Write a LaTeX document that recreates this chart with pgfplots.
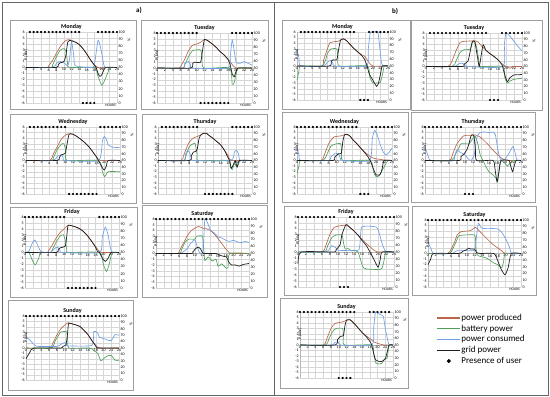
\documentclass[border=0pt]{standalone}
\usepackage{pgfplots}
\pgfplotsset{compat=1.18}
\usepackage{fontspec}
\setmainfont{Carlito}
\definecolor{cProd}{HTML}{B8654A}
\definecolor{cBatt}{HTML}{4E9F5B}
\definecolor{cCons}{HTML}{6E9FE6}
\definecolor{cGrid}{HTML}{1E1E1E}
\newcommand{\tl}{\fontsize{4}{4.5}\selectfont}
\pgfplotsset{
  /pgf/number format/assume math mode=true,
  every axis title shift=0pt,
  prod/.style={color=cProd, line width=0.65pt, smooth, tension=0.35},
  batt/.style={color=cBatt, line width=0.65pt, smooth, tension=0.35},
  cons/.style={color=cCons, line width=0.65pt, smooth, tension=0.35},
  gridp/.style={color=cGrid, line width=0.7pt, smooth, tension=0.35},
  dots/.style={only marks, mark=*, mark size=0.95pt, black},
  pbase/.style={scale only axis, anchor=north west, xmin=0, xmax=24, clip=false},
  pleft/.style={pbase, ymin=-6, ymax=6, axis x line=middle, axis y line=left,
    axis line style={draw=gray!55, -}, xtick={0,2,...,24}, ytick={-6,-5,...,6},
    hide obscured x ticks=false, hide obscured y ticks=false,
    grid=major, grid style={draw=gray!32, line width=0.3pt}, major tick length=0pt,
    tick label style={font=\tl}, xticklabel style={inner sep=0.6pt}, yticklabel style={inner sep=1.2pt},
    title style={font=\fontsize{6}{7}\selectfont\bfseries, at={(0.5,1)}, anchor=south, yshift=2pt, inner sep=0pt},
    xlabel={HOURS}, xlabel style={font=\fontsize{3.6}{4}\selectfont, at={(axis description cs:1,0)}, anchor=north east, inner sep=1pt},
    ylabel={P (kW)}, ylabel style={font=\tl, at={(axis description cs:0,0.82)}, anchor=center, xshift=-10pt}},
  raxis/.style={pbase, ymin=0, ymax=100, axis x line=none, axis y line*=right, axis line style={draw=none},
    ytick={0,10,...,100}, major tick length=0pt, tick label style={font=\tl}, yticklabel style={inner sep=1.5pt}},
}
\newcommand{\raxis}[4]{\begin{axis}[raxis, at={(#1pt,-#2pt)}, width=#3pt, height=#4pt]
\node[font=\tl, rotate=90] at ([xshift=12pt]rel axis cs:1,0.88) {\%};
\end{axis}}
\begin{document}
\begin{tikzpicture}
\useasboundingbox (0,0) rectangle (550pt,-397pt);
% outer frames
\draw[gray!80!black, line width=0.8pt] (2pt,-2pt) rectangle (548pt,-395pt);
\draw[gray!80!black, line width=0.8pt] (274pt,-2pt) -- (274pt,-395pt);
\node[font=\fontsize{7}{8}\selectfont\bfseries] at (139pt,-10pt) {a)};
\node[font=\fontsize{7}{8}\selectfont\bfseries] at (395pt,-11pt) {b)};
% panel frames
\begin{scope}[draw=gray!75, line width=0.6pt]
\draw (10pt,-20pt) rectangle (136pt,-109pt);
\draw (141pt,-20pt) rectangle (268pt,-109pt);
\draw (10pt,-114pt) rectangle (136pt,-203pt);
\draw (142pt,-114pt) rectangle (267pt,-203pt);
\draw (10pt,-207pt) rectangle (137pt,-297pt);
\draw (142pt,-205pt) rectangle (267pt,-297pt);
\draw (8pt,-300pt) rectangle (133pt,-390pt);
\draw (282pt,-20pt) rectangle (410pt,-109pt);
\draw (411pt,-20pt) rectangle (542pt,-110pt);
\draw (282pt,-112pt) rectangle (408pt,-202pt);
\draw (411pt,-112pt) rectangle (535pt,-202pt);
\draw (284pt,-206pt) rectangle (408pt,-295pt);
\draw (412pt,-206pt) rectangle (536pt,-295pt);
\draw (280pt,-298pt) rectangle (408pt,-388pt);
\end{scope}

%% ---------------- a) Monday
\begin{axis}[pleft, at={(26pt,-32pt)}, width=91pt, height=71pt, title={Monday}]
\addplot[prod] coordinates {(0,0)(5.5,0)(6,0.3)(7,1.2)(8,2.4)(9,3.5)(10,4.3)(11,4.7)(12,4.6)(13,4.3)(14,3.9)(15,3.2)(16,2.3)(17,1.3)(18,0.5)(19,0)(20,-0.2)(21,0)(24,0)};
\addplot[batt] coordinates {(0,0)(6.5,0)(7,0.4)(8,1.8)(9,2.9)(10,3.2)(10.6,2.6)(11,0.5)(11.5,0)(18,0)(19,-1.5)(20,-3)(21,-1.8)(22,-0.2)(22.5,0)(24,0)};
\addplot[cons] coordinates {(0,0)(7,0)(8,0.7)(9,1)(10,0.8)(11,0.3)(11.5,1.5)(12,4.4)(12.6,2)(13,0.3)(17,0)(18,0.3)(19,4.6)(19.8,3)(20.5,0.5)(21,0)(24,0)};
\addplot[gridp] coordinates {(0,0)(8,0)(8.5,0.5)(9,0.8)(10,1)(10.5,2)(11,4.3)(11.5,4.6)(12,4.5)(13,4.3)(14,3.9)(15,3.2)(16,2.3)(17,1.3)(18,0.4)(18.5,0)(19,-1)(19.5,-1.5)(20,-1.2)(21,0)(24,0)};
\addplot[dots] coordinates {(1,6)(2,6)(3,6)(4,6)(5,6)(6,6)(7,6)(8,6)(9,6)(10,6)(11,6)(12,6)(13,6)(14,6)(19,6)(20,6)(21,6)(22,6)(23,6)(24,6)};
\addplot[dots] coordinates {(15,-6)(16,-6)(17,-6)(18,-6)};
\end{axis}
\raxis{26}{32}{91}{71}

%% ---------------- a) Tuesday
\begin{axis}[pleft, at={(157pt,-33pt)}, width=95pt, height=70pt, title={Tuesday}]
\addplot[prod] coordinates {(0,0)(5.5,0)(6,0.3)(7,1.5)(8,3)(9,3.9)(10,4.1)(11,4.4)(12,4.9)(13,4.6)(14,4.1)(15,3.5)(16,2.8)(17,2.2)(18,1.5)(19,0.6)(20,0)(24,0)};
\addplot[batt] coordinates {(0,0)(6.5,0)(7,0.5)(8,2)(9,3)(10,3.1)(11,3.1)(11.4,2)(11.8,0)(18.3,0)(19,-2.8)(19.5,-2.5)(20,-1)(20.5,0)(24,0)};
\addplot[cons] coordinates {(0,0)(6.5,0)(7,0.8)(8,1.1)(8.5,0.5)(9,0)(18,0)(18.5,2)(19,4.8)(19.5,3)(20,1)(21,0.8)(22,1.1)(23,0.8)(24,0.5)};
\addplot[gridp] coordinates {(0,0)(8.5,0)(9,0.8)(9.5,1)(11,1)(11.5,3)(12,4.9)(13,4.6)(14,4.1)(15,3.5)(16,2.8)(17,2.2)(18,1.4)(18.5,0.5)(19,-1)(19.5,-1.5)(20,-0.5)(20.5,0)(24,0)};
\addplot[dots] coordinates {(0,6)(1,6)(2,6)(3,6)(4,6)(5,6)(6,6)(7,6)(8,6)(9,6)(10,6)(19,6)(20,6)(21,6)(22,6)(23,6)(24,6)};
\addplot[dots] coordinates {(11,-6)(12,-6)(13,-6)(14,-6)(15,-6)(16,-6)(17,-6)(18,-6)};
\end{axis}
\raxis{157}{33}{95}{70}

%% ---------------- a) Wednesday
\begin{axis}[pleft, at={(26pt,-127pt)}, width=94pt, height=67pt, title={Wednesday}]
\addplot[prod] coordinates {(0,0)(6,0)(7,1.2)(8,2.5)(9,3.8)(10,4.5)(11,4.8)(12,4.7)(13,4.3)(14,3.8)(15,3.2)(16,2.5)(17,1.6)(18,0.7)(19,0)(24,0)};
\addplot[batt] coordinates {(0,0)(6.5,0)(7,0.5)(8,2)(9,2.9)(9.7,3)(10.2,1.5)(10.5,0)(18.5,0)(19.5,-2)(20,-2.9)(20.5,-2.5)(21,-2)(24,-2)};
\addplot[cons] coordinates {(0,0)(7,0)(8,0.8)(9,1)(9.5,0.5)(10,0)(18.5,0)(19.5,3.5)(20,4.3)(20.5,3.8)(21,2.8)(22,2.4)(24,2.3)};
\addplot[gridp] coordinates {(0,0)(8,0)(8.5,0.5)(9,1)(10,1.3)(10.5,3)(11,4.7)(12,4.7)(13,4.3)(14,3.8)(15,3.2)(16,2.5)(17,1.6)(18,0.6)(18.5,0)(19.5,-1.3)(20,-1.7)(20.5,-1)(21,0)(24,0)};
\addplot[dots] coordinates {(1,6)(2,6)(3,6)(4,6)(5,6)(6,6)(7,6)(8,6)(9,6)(10,6)(19,6)(20,6)(21,6)(22,6)(23,6)(24,6)};
\addplot[dots] coordinates {(11,-6)(12,-6)(13,-6)(14,-6)(15,-6)(16,-6)(17,-6)(18,-6)};
\end{axis}
\raxis{26}{127}{94}{67}

%% ---------------- a) Thursday
\begin{axis}[pleft, at={(158pt,-127pt)}, width=94pt, height=67pt, title={Thursday}]
\addplot[prod] coordinates {(0,0)(5.8,0)(6.5,0.8)(7,1.8)(8,3.3)(9,4)(10,4.3)(11,4.6)(11.7,4.9)(12.5,4.8)(13,4.5)(14,4)(15,3.4)(16,2.8)(17,1.8)(18,0.8)(18.7,0)(24,0)};
\addplot[batt] coordinates {(0,0)(6.5,0)(7,0.6)(8,2.5)(9,3)(9.5,3)(10,1)(10.3,0)(17.8,0)(18.5,-1.2)(19,-1.6)(19.5,-0.5)(20,-1)(20.5,-0.8)(21,0)(24,0)};
\addplot[cons] coordinates {(0,0)(6.5,0)(7,1)(7.5,1.8)(8,1.5)(8.5,0.5)(9,0)(18.5,0)(19.5,1.5)(20,1.8)(20.5,1.3)(21,0)(24,0)};
\addplot[gridp] coordinates {(0,0)(8,0)(8.5,0.8)(9,1.5)(9.5,1.6)(10,2)(10.5,4)(11,4.6)(11.7,4.9)(12.5,4.8)(13,4.5)(14,4)(15,3.4)(16,2.8)(17,1.8)(17.8,0.6)(18.3,0)(18.7,-1.4)(19.2,-0.8)(19.7,0)(20.2,-1.2)(20.8,0)(24,0)};
\addplot[dots] coordinates {(1,6)(2,6)(3,6)(4,6)(5,6)(6,6)(7,6)(8,6)(9,6)(10,6)(19,6)(20,6)(21,6)(22,6)(23,6)(24,6)};
\addplot[dots] coordinates {(12,-6)(13,-6)(14,-6)(15,-6)(16,-6)(17,-6)(18,-6)(19,-6)};
\end{axis}
\raxis{158}{127}{94}{67}

%% ---------------- a) Friday
\begin{axis}[pleft, at={(25pt,-217pt)}, width=94pt, height=71pt, title={Friday}]
\addplot[prod] coordinates {(0,0)(5.5,0)(6,0.3)(7,1.3)(8,2.5)(9,3.4)(10,4)(11,4.6)(12,4.5)(13,4.3)(14,4)(15,3.5)(16,2.8)(17,1.9)(18,1)(19,0.2)(19.5,0)(24,0)};
\addplot[batt] coordinates {(0,0)(1,0)(2,-1.5)(2.6,-2.1)(3.5,-1)(4,0)(6.5,0)(7,0.5)(8,1.8)(9,2.8)(9.8,3)(10.3,2)(10.7,0.3)(11,0)(19,0)(20,-2)(20.8,-3.2)(21.5,-2)(22,-0.5)(22.5,0)(24,0)};
\addplot[cons] coordinates {(0,0)(1,0.2)(1.8,1.5)(2.5,2.1)(3.2,1.3)(4,0.2)(5,0)(6.5,0)(7,0.3)(8,0.9)(8.5,0.8)(9,0.3)(9.5,0)(19,0)(19.7,2.5)(20.5,4.3)(21.2,3)(21.8,0.8)(22.3,0)(24,0)};
\addplot[gridp] coordinates {(0,0)(8,0)(8.5,0.5)(9,0.8)(10.3,1.1)(10.7,3)(11,4.6)(12,4.5)(13,4.3)(14,4)(15,3.5)(16,2.8)(17,1.9)(18,0.9)(18.5,0.2)(19,0)(19.8,-1)(20.5,-1.5)(21.2,-1)(22,0)(24,0)};
\addplot[dots] coordinates {(0,6)(1,6)(2,6)(3,6)(4,6)(5,6)(6,6)(7,6)(8,6)(9,6)(10,6)(19,6)(20,6)(21,6)(22,6)(23,6)(24,6)};
\addplot[dots] coordinates {(11,-6)(12,-6)(13,-6)(14,-6)(15,-6)(16,-6)(17,-6)(18,-6)};
\end{axis}
\raxis{25}{217}{94}{71}

%% ---------------- a) Saturday
\begin{axis}[pleft, at={(156pt,-219pt)}, width=93pt, height=69pt, title={Saturday}]
\addplot[prod] coordinates {(0,0)(5.5,0)(6,0.4)(7,1.7)(8,3)(9,3.9)(10,4.4)(11,4.7)(12,4.4)(13,4.3)(14,4)(15,3.4)(16,2.6)(17,1.7)(18,0.8)(19,0.1)(19.5,0)(24,0)};
\addplot[batt] coordinates {(0,0)(6,0)(6.5,0.5)(7.5,2)(8.5,2.5)(10,2.5)(10.5,3)(12,3)(12.3,1)(12.6,-1.2)(13.5,-0.6)(14.5,-1.3)(15.5,-1)(16,-2.2)(17,-1.8)(18,-2.5)(18.6,-2.4)(19,0)(24,0)};
\addplot[cons] coordinates {(0,0)(6,0)(7,0.3)(8,0.8)(9,1.8)(10,2.4)(10.5,1.5)(11,0.5)(11.5,0)(12.2,0.5)(12.6,6)(13.5,5)(14,4.1)(15,3.6)(16,2.9)(17,2.7)(18,2.3)(19,2.1)(20,2.3)(21,2)(22,1.9)(23,2.1)(24,1.9)};
\addplot[gridp] coordinates {(0,0)(9,0)(9.5,0.3)(10.5,1)(11,1.1)(11.5,0.8)(12,0.1)(12.5,0)(15.5,0)(16.5,-0.3)(17.5,-0.5)(18.2,-0.6)(18.8,-1.5)(19.5,-2)(20.5,-2)(21.5,-2.2)(22.5,-1.9)(23.5,-1.8)(24,-1.7)};
\addplot[dots] coordinates {(0,6)(1,6)(2,6)(3,6)(4,6)(5,6)(6,6)(7,6)(8,6)(9,6)(10,6)(11,6)(12,6)(13,6)(14,6)(15,6)(16,6)(17,6)(18,6)(19,6)(20,6)(21,6)(22,6)(23,6)(24,6)};
\end{axis}
\raxis{156}{219}{93}{69}

%% ---------------- a) Sunday
\begin{axis}[pleft, at={(26pt,-316pt)}, width=93pt, height=64pt, title={Sunday}]
\addplot[prod] coordinates {(0,0)(6,0)(7,1)(8,2.5)(9,3.6)(10,4.3)(10.9,4.75)(12,4.5)(13,4.3)(14,4)(15,3.3)(16,2.5)(17,1.4)(18,0.5)(19,0)(24,0)};
\addplot[batt] coordinates {(0,0)(6.5,0)(7.5,1.3)(8.5,2.5)(9,3)(10.5,3)(10.8,1)(11.1,0)(16.5,0)(17.5,-0.5)(18.5,-1)(19.3,-2.4)(20,-2)(21,-1.5)(22,-1.4)(23,-2.3)(24,-2.3)};
\addplot[cons] coordinates {(0,2.1)(1,1.5)(2,0.7)(3,0.3)(8,0.3)(9,0.7)(10,1)(10.5,0.5)(11,0.4)(17,0.5)(17.5,3.1)(18.5,2.8)(19,2)(20,1.8)(21,1.5)(22,1.4)(23,2.5)(24,2.4)};
\addplot[gridp] coordinates {(0,-2)(1,-0.8)(2,0)(9,0)(9.5,0.3)(10.3,0.6)(10.7,2.5)(11,4.6)(12,4.5)(13,4.3)(14,4)(15,3.3)(16,2.5)(17,1.4)(18,0.4)(18.5,0)(24,0)};
\addplot[dots] coordinates {(0,6)(1,6)(2,6)(3,6)(4,6)(5,6)(6,6)(7,6)(8,6)(9,6)(10,6)(11,6)(12,6)(13,6)(14,6)(15,6)(16,6)(17,6)(18,6)(19,6)(20,6)(21,6)(22,6)(23,6)(24,6)};
\end{axis}
\raxis{26}{316}{93}{64}

%% ---------------- b) Monday
\begin{axis}[pleft, at={(297pt,-32pt)}, width=91pt, height=68pt, title={Monday}]
\addplot[prod] coordinates {(0,0)(6.5,0)(7,1)(8,3)(8.7,4.1)(10,4.3)(11,4.4)(12.2,4.8)(13,4.5)(14,3.8)(15,3.1)(16,2.5)(17,2)(17.9,1.7)(19,0.6)(20,0)(24,0)};
\addplot[batt] coordinates {(0,-2.5)(0.5,-1)(1,0)(6.5,0)(7.5,1)(8,2.2)(9,3)(10.5,3)(10.8,1.5)(11.2,0)(18.5,0)(19.2,-2)(20,-3)(21,-3)(22,-2.9)(22.7,-1)(23,0)(24,0)};
\addplot[cons] coordinates {(0,2.9)(0.5,1.5)(1,0)(7,0)(8,0.7)(9,1)(9.5,0.4)(10,0)(18.3,0)(18.8,3)(19.3,5.8)(20,6)(21.3,6)(21.7,4)(22.2,1)(22.6,0)(24,0)};
\addplot[gridp] coordinates {(0,0)(8.5,0)(9,0.8)(9.5,1.1)(10.5,1.1)(11,3)(11.5,4.6)(12.2,4.8)(13,4.5)(14,3.8)(15,3.1)(16,2.5)(17,1.9)(17.8,1.2)(18.5,0)(19,-1.3)(20,-2.5)(21,-3.6)(21.5,-3)(22,-1.5)(22.5,0)(24,0)};
\addplot[dots] coordinates {(1,6)(2,6)(3,6)(4,6)(5,6)(6,6)(7,6)(8,6)(9,6)(10,6)(11,6)(12,6)(13,6)(14,6)(15,6)(19,6)(20,6)(21,6)(22,6)(23,6)(24,6)};
\addplot[dots] coordinates {(16.7,-6)(17.7,-6)(18.7,-6)};
\end{axis}
\raxis{297}{32}{91}{68}

%% ---------------- b) Tuesday
\begin{axis}[pleft, at={(426pt,-33pt)}, width=96pt, height=67pt, title={Tuesday}]
\addplot[prod] coordinates {(0,0)(5.5,0)(6.5,1)(7.5,2.8)(8.5,4.3)(9.5,4.5)(12.3,4.6)(13,4.4)(14,3.6)(15,2.9)(16,2.3)(17,1.8)(18,1.2)(19,0.5)(20,0)(21,-0.3)(22,0)(24,0)};
\addplot[batt] coordinates {(0,0)(6.5,0)(7.5,1)(8.5,2.5)(9.5,3)(11,3.1)(11.5,4.2)(12.2,4.5)(12.8,3)(13.3,0.5)(13.6,0)(19.2,0)(19.7,-2)(20.3,-3)(21,-2.6)(22,-2.3)(23,-2.2)(24,-2.1)};
\addplot[cons] coordinates {(0,0)(7,0)(8,0.4)(9,0.6)(10,0.2)(10.5,0)(19.2,0)(19.6,4)(20,6)(21,5.4)(22,4.5)(23,3.6)(24,2.8)};
\addplot[gridp] coordinates {(0,0)(9,0)(9.5,0.4)(10.5,1)(11,2.5)(11.6,4.5)(12.2,4.4)(12.8,2)(13.3,0)(13.8,2)(14.3,3.9)(15,2.9)(16,2.3)(17,1.8)(18,1.2)(19,0.3)(19.5,-1)(20.3,-2.7)(21,-2)(22,-1.5)(23,-1.5)(24,-1.4)};
\addplot[dots] coordinates {(1,6)(2,6)(3,6)(4,6)(5,6)(6,6)(7,6)(8,6)(9,6)(10,6)(11,6)(12,6)(13,6)(14,6)(15,6)(19,6)(20,6)(21,6)(22,6)(23,6)(24,6)};
\addplot[dots] coordinates {(16,-6)(17,-6)(18,-6)};
\end{axis}
\raxis{426}{33}{96}{67}

%% ---------------- b) Wednesday
\begin{axis}[pleft, at={(297pt,-127pt)}, width=95pt, height=67pt, title={Wednesday}]
\addplot[prod] coordinates {(0,0)(6,0)(7,1.2)(8,3)(9.3,4.2)(11,4.4)(12.6,4.7)(13.5,4.3)(14,3.8)(15,3.1)(16,2.3)(17,1.6)(18,1)(19,0.5)(20,0.3)(21,0.2)(22,0.1)(24,0)};
\addplot[batt] coordinates {(0,-2.3)(0.5,-1)(1,0)(6.5,0)(7.5,1)(8.5,2.5)(9.5,2.9)(11,3)(11.3,1.5)(11.6,0)(18.5,0)(19.3,-2)(20,-2.9)(20.8,-2.7)(21.5,-1.8)(22.3,-0.8)(23,0)(24,0)};
\addplot[cons] coordinates {(0,2.2)(0.5,1)(1,0)(8,0)(8.5,0.6)(9.5,1.2)(10.5,1.2)(11,0.3)(11.5,0)(18.3,0)(19,3.8)(19.6,5.4)(20.3,4.5)(21,2.9)(21.8,1.5)(22.5,1)(23.3,1.5)(24,2.2)};
\addplot[gridp] coordinates {(0,0)(9,0)(9.5,0.6)(10.5,1.2)(11.2,1.3)(11.6,3.5)(12,4.6)(12.6,4.7)(13.5,4.3)(14,3.8)(15,3.1)(16,2.3)(17,1.5)(18,0.6)(18.5,0)(19.3,-1.5)(20,-2.6)(21,-2.5)(21.5,-1.5)(22,0)(24,0)};
\addplot[dots] coordinates {(0,6)(1,6)(2,6)(3,6)(4,6)(5,6)(6,6)(7,6)(8,6)(9,6)(10,6)(11,6)(12,6)(13,6)(14,6)(15,6)(19,6)(20,6)(21,6)(22,6)(23,6)(24,6)};
\addplot[dots] coordinates {(16,-6)(17,-6)(18,-6)};
\end{axis}
\raxis{297}{127}{95}{67}

%% ---------------- b) Thursday
\begin{axis}[pleft, at={(425pt,-127pt)}, width=96pt, height=67pt, title={Thursday}]
\addplot[prod] coordinates {(0,0)(6,0)(7,1.3)(8,3)(9.6,4.4)(11,4.5)(12.1,4.6)(13,4.5)(14,4.1)(15,3.4)(16,2.7)(16.7,2.1)(17.5,1.5)(18.5,0.8)(19.2,0.4)(20,0.1)(21,0)(24,0)};
\addplot[batt] coordinates {(0,0)(6.5,0)(7.5,1)(8.5,2.3)(9,3)(11,3)(11.8,3.8)(12.5,4.4)(13.2,3)(13.8,1)(14.5,0)(15.3,-1.2)(16,-2)(17,-2.6)(17.8,-3.2)(18.2,-3.8)(18.6,-1)(19,0)(20,-0.5)(20.6,-1)(21.2,-0.5)(22,0)(24,0)};
\addplot[cons] coordinates {(0,2.2)(0.7,1)(1.5,0)(7,0)(7.5,1)(8,1.9)(8.7,1.5)(10,1)(10.8,0.3)(11.5,0)(12.3,1)(12.9,4)(13.7,5)(15,5.1)(16,5)(17,5.1)(17.6,4.6)(18.2,2)(18.8,0.3)(19.5,0)(20.3,0.5)(21,1.3)(22,2.5)(22.6,1.2)(23,0)(24,0)};
\addplot[gridp] coordinates {(0,0)(8.5,0)(9,0.7)(9.8,1.2)(10.5,2)(11,3)(11.5,4.4)(12.2,4.5)(12.6,2)(12.9,0)(17,0)(17.5,-1.5)(18,-3.8)(18.5,-2)(19,0)(21,0)(21.5,-1.2)(21.9,-2)(22.3,-1)(22.8,0)(24,0)};
\addplot[dots] coordinates {(0,6)(1,6)(2,6)(3,6)(4,6)(5,6)(6,6)(7,6)(8,6)(9,6)(14,6)(15,6)(16,6)(17,6)(18,6)(19,6)(20,6)(21,6)(22,6)(23,6)(24,6)};
\addplot[dots] coordinates {(10,-6)(11,-6)(12,-6)};
\end{axis}
\raxis{425}{127}{96}{67}

%% ---------------- b) Friday
\begin{axis}[pleft, at={(298pt,-217pt)}, width=96pt, height=70pt, title={Friday}]
\addplot[prod] coordinates {(0,0)(6,0)(7,1.2)(7.9,2.9)(9,4.2)(10.5,4.5)(12.1,4.6)(13,4.2)(14,3.6)(15,2.9)(16,2.2)(17,1.5)(18,0.9)(19,0.3)(20,0)(24,0)};
\addplot[batt] coordinates {(0,0)(6.5,0)(7.5,1.2)(8.5,2.5)(9.5,2.9)(11,2.9)(11.4,1.5)(11.8,0.5)(12.5,0.6)(13.3,0.2)(14,0.3)(15,0)(15.5,-1)(16.2,-2.5)(17,-2.9)(20,-3)(21,-2.8)(21.5,-1.5)(22,0)(24,0)};
\addplot[cons] coordinates {(0,0)(7,0)(8,0.7)(8.5,1.1)(9.5,0.7)(10,0.3)(15,0.3)(15.5,1.5)(16,4.3)(19.5,4.3)(20.2,3.5)(21,1.5)(22,0)(24,0)};
\addplot[gridp] coordinates {(0,-2)(0.8,0)(9,0)(9.5,0.4)(10.5,1.2)(11,3)(12,4.7)(13,4.2)(14,3.6)(15,2.9)(16,2)(17,1.2)(18,0)(19,-1.3)(20,-2.6)(20.5,-1.5)(21,0)(24,0)};
\addplot[dots] coordinates {(0,6)(1,6)(2,6)(3,6)(4,6)(5,6)(6,6)(7,6)(8,6)(9,6)(13,6)(14,6)(15,6)(16,6)(17,6)(18,6)(19,6)(20,6)(21,6)(22,6)(23,6)(24,6)};
\addplot[dots] coordinates {(10.5,-6)(11.5,-6)(12.5,-6)};
\end{axis}
\raxis{298}{217}{96}{70}

%% ---------------- b) Saturday
\begin{axis}[pleft, at={(428pt,-220pt)}, width=93pt, height=67pt, title={Saturday}]
\addplot[prod] coordinates {(0,0)(5,0)(6,0.8)(7,2.3)(7.5,3.3)(8.5,3.9)(11,4.1)(12.2,4.7)(13,4.2)(14,3.5)(15,2.8)(16,2.1)(17,1.5)(18,1)(19,0.5)(20,0)(24,0)};
\addplot[batt] coordinates {(0,0)(5.5,0)(6.5,1)(7.5,2.5)(8,3.2)(12,3.3)(12.3,1.5)(12.6,0)(13,-0.4)(14,-0.6)(15,-0.8)(16,-1.2)(17,-1.7)(18,-2)(19,-2.6)(19.5,-1.5)(20,0)(24,0)};
\addplot[cons] coordinates {(0,2)(0.7,1)(1.5,0)(6,0)(7,0.3)(8,0.6)(12,0.6)(12.5,3)(13,5.4)(13.5,4.8)(14,4.5)(16,4.5)(18,4.4)(19,3.8)(20,2.7)(21,1.2)(21.6,0)(24,0)};
\addplot[gridp] coordinates {(0,-2)(0.7,-1)(1.5,0)(8,0)(9,0.4)(10,0.7)(10.5,0.95)(11,0.8)(12,0.8)(12.5,0.2)(13.5,0)(17,0)(18,-1.3)(19,-3)(19.9,-3.8)(20.7,-2.5)(21.5,0)(24,0)};
\addplot[dots] coordinates {(0,6)(1,6)(2,6)(3,6)(4,6)(5,6)(6,6)(7,6)(8,6)(9,6)(10,6)(11,6)(12,6)(13,6)(14,6)(15,6)(16,6)(17,6)(18,6)(19,6)(20,6)(21,6)(22,6)(23,6)(24,6)};
\end{axis}
\raxis{428}{220}{93}{67}

%% ---------------- b) Sunday
\begin{axis}[pleft, at={(300pt,-312pt)}, width=93pt, height=66pt, title={Sunday}]
\addplot[prod] coordinates {(0,0)(6,0)(7,1.3)(8,3)(9,3.9)(11,4.2)(12,4.5)(12.9,4.6)(14,3.9)(15,3.1)(16,2.3)(17,1.7)(18,1.2)(19,0.6)(20,0.3)(21,0.1)(22,0)(24,0)};
\addplot[batt] coordinates {(0,0)(6.5,0)(7.5,1.2)(8.5,2.5)(9.3,3)(11,3)(11.2,1.5)(11.5,0)(18.5,0)(19,-1.5)(19.6,-3.3)(21,-3.4)(21.8,-2.6)(22.5,-2.4)(23,0)(24,0)};
\addplot[cons] coordinates {(0,0)(8,0)(9,0.5)(10,0.5)(10.5,0)(18.5,0)(19,3)(19.5,6)(20.5,5.6)(21.5,5.2)(22,3)(22.6,1)(23,0)(24,0)};
\addplot[gridp] coordinates {(0,0)(9,0)(9.7,1)(10.5,1.6)(11.2,1.7)(11.6,3.5)(12,4.5)(12.9,4.6)(14,3.9)(15,3.1)(16,2.3)(17,1.6)(18,0.7)(18.5,0)(19.5,-2.7)(21,-3)(22,-2.5)(22.5,-1.3)(23,0)(24,0)};
\addplot[dots] coordinates {(0,6)(1,6)(2,6)(3,6)(4,6)(5,6)(6,6)(7,6)(8,6)(9,6)(10,6)(11,6)(12,6)(13,6)(14,6)(18,6)(19,6)(20,6)(21,6)(22,6)(23,6)};
\addplot[dots] coordinates {(10,-6)(11,-6)(12,-6)(13,-6)};
\end{axis}
\raxis{300}{312}{93}{66}

%% ---------------- legend
\begin{axis}[at={(436pt,-313pt)}, anchor=north west, scale only axis, width=100pt, height=60pt, hide axis,
  xmin=0, xmax=1, ymin=0, ymax=1, legend cell align=left,
  legend style={at={(0,1)}, anchor=north west, draw=none, fill=none, font=\fontsize{9}{10}\selectfont, row sep=1pt, inner sep=0pt, nodes={inner sep=1pt}},
  legend image code/.code={\draw[#1, line width=1.2pt] (0pt,0pt) -- (23pt,0pt);}]
\addlegendimage{cProd}\addlegendentry{power produced}
\addlegendimage{cBatt}\addlegendentry{battery power}
\addlegendimage{cCons}\addlegendentry{power consumed}
\addlegendimage{cGrid}\addlegendentry{grid power}
\addlegendimage{legend image code/.code={\fill[black] (12pt,0pt) circle (1.8pt);}}\addlegendentry{Presence of user}
\end{axis}
\end{tikzpicture}
\end{document}
